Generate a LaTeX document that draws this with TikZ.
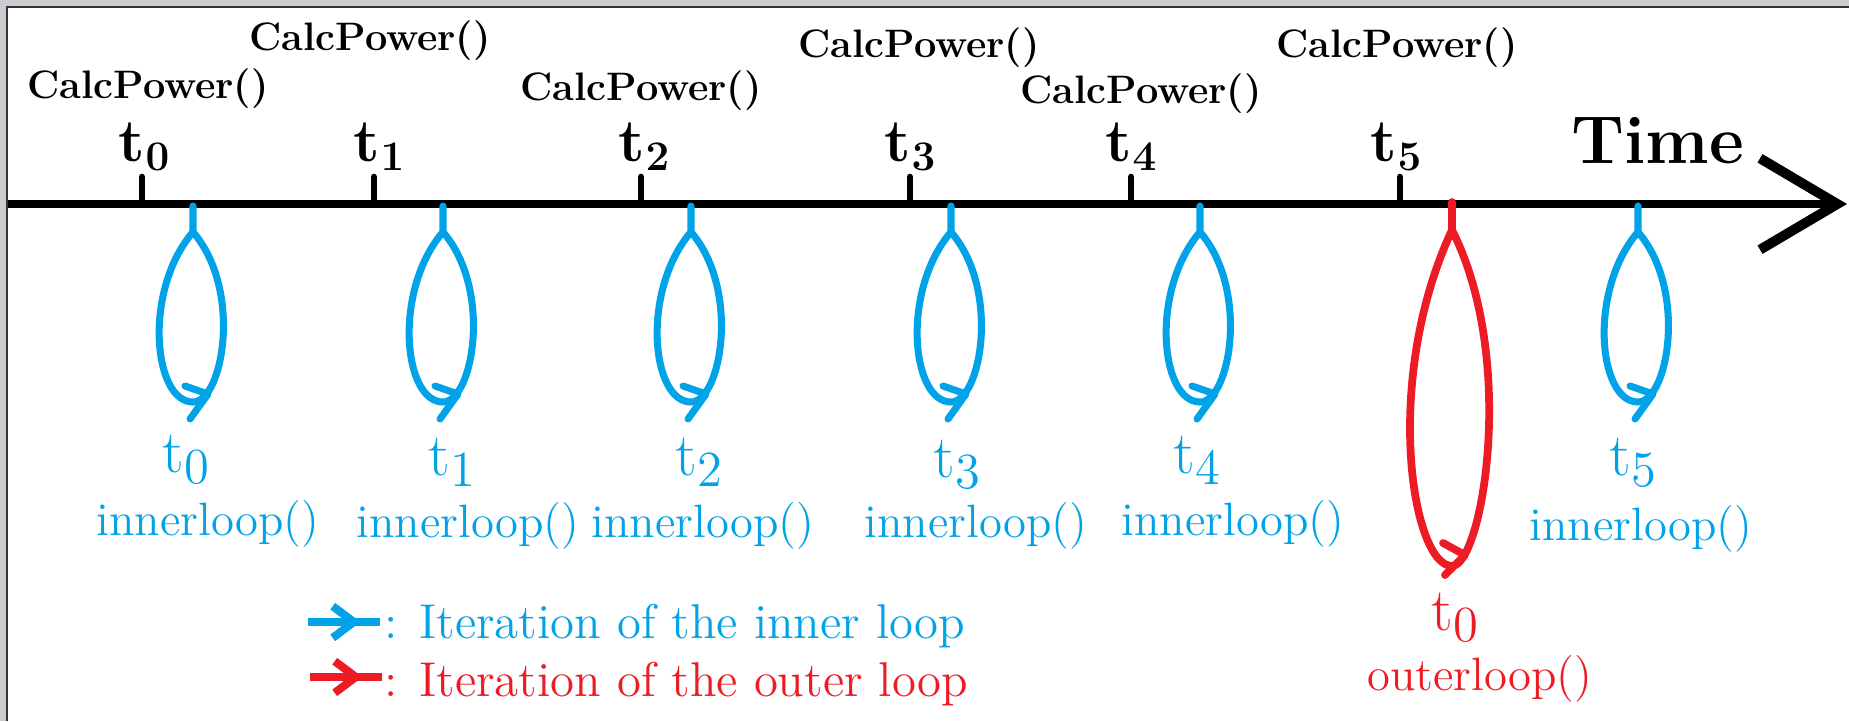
\documentclass[tikz,border=0pt]{standalone}
\usepackage{tikz}
\usepackage{amsmath}
\usetikzlibrary{arrows.meta}
\usetikzlibrary{decorations.markings}
\definecolor{loopblue}{RGB}{0,162,232}
\definecolor{loopred}{RGB}{237,28,36}
\definecolor{framegray}{RGB}{200,204,208}

\begin{document}
\begin{tikzpicture}[
    axisline/.style={line width=2.3pt, black},
    tickmark/.style={line width=1.9pt, line cap=round},
    calclabel/.style={anchor=base, inner sep=0pt, font=\fontsize{11.3}{13}\selectfont\bfseries},
    ticklabel/.style={anchor=base, inner sep=0pt, font=\fontsize{17.5}{20}\selectfont},
    looptime/.style={anchor=base, inner sep=0pt, font=\fontsize{19}{22}\selectfont},
    loopname/.style={anchor=base, inner sep=0pt, font=\fontsize{13.3}{16}\selectfont},
    legendname/.style={anchor=base west, inner sep=0pt, font=\fontsize{13.9}{16}\selectfont},
    loopline/.style={line width=2pt, line cap=round, line join=round},
    legendbarb/.style={line width=2.3pt,
        decoration={markings, mark=at position 0.73 with {\arrow{Straight Barb[length=6pt,width=9pt]}}},
        postaction={decorate}},
]
    \useasboundingbox (0,0) rectangle (18.49,-7.21);
    \fill[white] (0,0) rectangle (18.49,-7.21);
    \fill[framegray] (0,0) rectangle (18.49,-0.06);
    \fill[framegray] (0,0) rectangle (0.06,-7.21);
    \draw[black!80, line width=0.6pt] (0.07,-7.21) -- (0.07,-0.07) -- (18.49,-0.07);

    % time axis
    \coordinate (axstart) at (0.08,-2.04);
    \coordinate (axend) at (18.47,-2.04);
    \draw[axisline, -{Straight Barb[length=22pt,width=26pt,line width=2.8pt]}] (axstart) -- (axend);
    \node[anchor=base, inner sep=0pt, font=\fontsize{19.3}{22}\selectfont\bfseries] (time) at (16.58,-1.63) {Time};

    \coordinate (tk0) at (1.42,-2.04);
    \coordinate (tk1) at (3.74,-2.04);
    \coordinate (tk2) at (6.41,-2.04);
    \coordinate (tk3) at (9.10,-2.04);
    \coordinate (tk4) at (11.31,-2.04);
    \coordinate (tk5) at (14.00,-2.04);
    \draw[tickmark] (tk0) -- ++(0,0.27);
    \draw[tickmark] (tk1) -- ++(0,0.27);
    \draw[tickmark] (tk2) -- ++(0,0.27);
    \draw[tickmark] (tk3) -- ++(0,0.27);
    \draw[tickmark] (tk4) -- ++(0,0.27);
    \draw[tickmark] (tk5) -- ++(0,0.27);

    \node[ticklabel] (tl0) at (1.45,-1.61) {$\mathbf{t}_{\mathbf{0}}$};
    \node[ticklabel] (tl1) at (3.80,-1.61) {$\mathbf{t}_{\mathbf{1}}$};
    \node[ticklabel] (tl2) at (6.45,-1.61) {$\mathbf{t}_{\mathbf{2}}$};
    \node[ticklabel] (tl3) at (9.11,-1.61) {$\mathbf{t}_{\mathbf{3}}$};
    \node[ticklabel] (tl4) at (11.32,-1.61) {$\mathbf{t}_{\mathbf{4}}$};
    \node[ticklabel] (tl5) at (13.97,-1.61) {$\mathbf{t}_{\mathbf{5}}$};

    \node[calclabel] (cp0) at (1.48,-0.98) {CalcPower()};
    \node[calclabel] (cp1) at (3.70,-0.50) {CalcPower()};
    \node[calclabel] (cp2) at (6.41,-1.00) {CalcPower()};
    \node[calclabel] (cp3) at (9.19,-0.57) {CalcPower()};
    \node[calclabel] (cp4) at (11.41,-1.03) {CalcPower()};
    \node[calclabel] (cp5) at (13.97,-0.57) {CalcPower()};

    % loops below the axis
    \def\innerLoop{(0,-2.06) -- (0,-2.32) .. controls (-0.50,-2.90) and (-0.40,-4.02) .. (0,-4.02) .. controls (0.30,-4.02) and (0.50,-2.90) .. (0,-2.32)}
    \def\innerBarb{(-0.08,-3.86) -- (0.15,-3.94) -- (-0.03,-4.19)}
    \def\outerLoop{(0,-2.02) -- (0,-2.30) .. controls (-0.70,-3.80) and (-0.40,-5.66) .. (0,-5.66) .. controls (0.30,-5.66) and (0.66,-3.60) .. (0,-2.30)}
    \def\outerBarb{(-0.09,-5.43) -- (0.13,-5.55) -- (-0.07,-5.75)}
    \draw[loopblue, loopline, shift={(1.93,0)}] \innerLoop;
    \draw[loopblue, loopline, shift={(1.93,0)}] \innerBarb;
    \draw[loopblue, loopline, shift={(4.43,0)}] \innerLoop;
    \draw[loopblue, loopline, shift={(4.43,0)}] \innerBarb;
    \draw[loopblue, loopline, shift={(6.91,0)}] \innerLoop;
    \draw[loopblue, loopline, shift={(6.91,0)}] \innerBarb;
    \draw[loopblue, loopline, shift={(9.51,0)}] \innerLoop;
    \draw[loopblue, loopline, shift={(9.51,0)}] \innerBarb;
    \draw[loopblue, loopline, shift={(12.00,0)}] \innerLoop;
    \draw[loopblue, loopline, shift={(12.00,0)}] \innerBarb;
    \draw[loopblue, loopline, shift={(16.38,0)}] \innerLoop;
    \draw[loopblue, loopline, shift={(16.38,0)}] \innerBarb;
    \draw[loopred, loopline, line width=2.2pt, shift={(14.52,0)}] \outerLoop;
    \draw[loopred, loopline, line width=2.2pt, shift={(14.52,0)}] \outerBarb;

    \node[looptime, text=loopblue] (lt0) at (1.87,-4.72) {$\mathrm{t}_0$};
    \node[looptime, text=loopblue] (lt1) at (4.53,-4.75) {$\mathrm{t}_1$};
    \node[looptime, text=loopblue] (lt2) at (7.00,-4.75) {$\mathrm{t}_2$};
    \node[looptime, text=loopblue] (lt3) at (9.58,-4.77) {$\mathrm{t}_3$};
    \node[looptime, text=loopblue] (lt4) at (11.98,-4.73) {$\mathrm{t}_4$};
    \node[looptime, text=loopblue] (lt5) at (16.34,-4.75) {$\mathrm{t}_5$};
    \node[looptime, text=loopred] (lt6) at (14.56,-6.30) {$\mathrm{t}_0$};

    \node[loopname, text=loopblue] (ln0) at (2.08,-5.35) {innerloop()};
    \node[loopname, text=loopblue] (ln1) at (4.68,-5.37) {innerloop()};
    \node[loopname, text=loopblue] (ln2) at (7.03,-5.37) {innerloop()};
    \node[loopname, text=loopblue] (ln3) at (9.76,-5.37) {innerloop()};
    \node[loopname, text=loopblue] (ln4) at (12.33,-5.35) {innerloop()};
    \node[loopname, text=loopblue] (ln5) at (16.41,-5.40) {innerloop()};
    \node[loopname, text=loopred] (ln6) at (14.80,-6.90) {outerloop()};

    % legend
    \coordinate (lgi0) at (3.08,-6.22);
    \coordinate (lgi1) at (3.80,-6.22);
    \coordinate (lgo0) at (3.10,-6.77);
    \coordinate (lgo1) at (3.82,-6.77);
    \draw[loopblue, legendbarb] (lgi0) -- (lgi1);
    \draw[loopred, legendbarb] (lgo0) -- (lgo1);
    \node[legendname, text=loopblue] (lgti) at (3.84,-6.38) {: Iteration of the inner loop};
    \node[legendname, text=loopred] (lgto) at (3.84,-6.96) {: Iteration of the outer loop};
\end{tikzpicture}
\end{document}
